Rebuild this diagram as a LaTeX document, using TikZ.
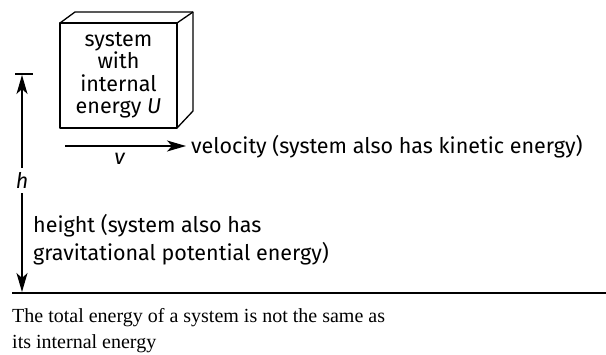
\documentclass[tikz,border=0pt]{standalone}
\usepackage{fontspec}
\setmainfont{Fira Sans}
\newfontfamily\capfont{Liberation Serif}
\usetikzlibrary{arrows.meta}
\begin{document}
\begin{tikzpicture}[x=1pt,y=-1pt,
  line/.style={line width=1.3pt},
  tip/.style={-{Stealth[length=19pt,width=11pt,inset=5pt]}},
  lbl/.style={font=\fontsize{21.5}{22.5}\selectfont, inner sep=0pt},
  captxt/.style={font=\capfont\fontsize{20}{25.5}\selectfont, inner sep=0pt, anchor=base west, align=left}]
\useasboundingbox (0,0) rectangle (606,354);
% box
\coordinate (fa) at (60,23);
\coordinate (fb) at (177,23);
\coordinate (fc) at (177,128);
\coordinate (fd) at (60,128);
\coordinate (ba) at (75,12);
\coordinate (bb) at (193,12);
\coordinate (bc) at (193,111);
\draw[line, line join=round] (fa) rectangle (fc);
\draw[line, line join=round] (fa) -- (ba) -- (bb) -- (bc) -- (fc);
\draw[line] (fb) -- (bb);
\node[lbl, align=center] (sys) at (118.5,75) {system\\with\\internal\\energy \textit{U}};
% velocity
\coordinate (v0) at (65,146);
\coordinate (v1) at (186,146);
\draw[line, tip] (v0) -- (v1);
\node[lbl, anchor=center] (vl) at (120,159) {\textit{v}};
\node[lbl, anchor=base west] (vel) at (191,153) {velocity (system also has kinetic energy)};
% height
\coordinate (bar0) at (15,74);
\coordinate (bar1) at (33,74);
\draw[line] (bar0) -- (bar1);
\node[lbl] (h) at (22,180) {\textit{h}};
\coordinate (top) at (22,75);
\coordinate (bot) at (22,292);
\draw[line, tip] (h.north) ++(0,-4) coordinate (hn) (hn) -- (top);
\draw[line, tip] (h.south) ++(0,5) coordinate (hs) (hs) -- (bot);
\node[lbl, anchor=base west, align=left, font=\fontsize{21.5}{28}\selectfont] (ht) at (33,260) {height (system also has\\gravitational potential energy)};
% ground
\coordinate (g0) at (12,293);
\coordinate (g1) at (606,293);
\draw[line] (g0) -- (g1);
% caption
\node[captxt] (capt) at (12,348) {The total energy of a system is not the same as\\its internal energy};
\end{tikzpicture}
\end{document}
